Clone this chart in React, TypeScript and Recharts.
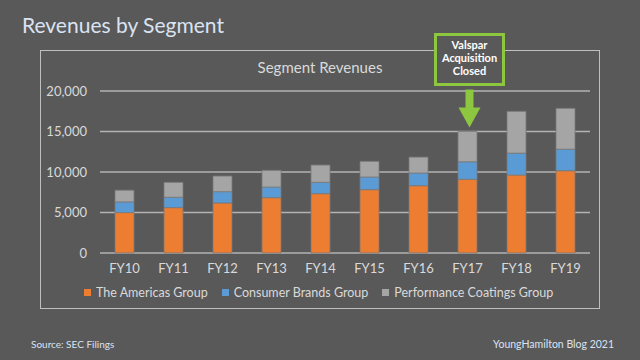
import { BarChart, Bar, XAxis, YAxis, CartesianGrid, ReferenceDot } from "recharts";

const YEARS = ["FY10", "FY11", "FY12", "FY13", "FY14", "FY15", "FY16", "FY17", "FY18", "FY19"];
const AMERICAS = [4990, 5600, 6180, 6830, 7330, 7820, 8310, 9100, 9630, 10160];
const CONSUMER = [1320, 1280, 1390, 1320, 1400, 1560, 1560, 2160, 2700, 2660];
const PERFORMANCE = [1440, 1840, 1930, 2050, 2130, 1930, 1970, 3740, 5160, 5040];
const Y_TICKS = [0, 5000, 10000, 15000, 20000];

const SERIES = [
  { key: "americas", name: "The Americas Group", color: "#ED7D31" },
  { key: "consumer", name: "Consumer Brands Group", color: "#5B9BD5" },
  { key: "performance", name: "Performance Coatings Group", color: "#A5A5A5" },
];

const FONT = "Lato, 'Open Sans', sans-serif";
const BG = "#595959";
const TEXT = "#d9d9d9";

const data = YEARS.map((year, i) => ({
  year,
  americas: AMERICAS[i],
  consumer: CONSUMER[i],
  performance: PERFORMANCE[i],
}));

const FY17 = YEARS.indexOf("FY17");
const fy17Total = AMERICAS[FY17] + CONSUMER[FY17] + PERFORMANCE[FY17];

// arrow + callout box anchored on top of the FY17 stack
function Callout(props: any) {
  const { cx, cy } = props;
  if (cx == null || cy == null) return null;
  const tip = cy - 4;
  const headBase = tip - 20;
  const shaftTop = tip - 38;
  const boxBottom = shaftTop - 5;
  const boxTop = boxBottom - 50;
  const bx = cx + 2;
  const green = "#8DC63F";
  return (
    <g>
      <rect x={cx - 2} y={shaftTop} width={8} height={headBase - shaftTop + 1} fill={green} />
      <polygon
        points={`${cx - 9},${headBase} ${cx + 13},${headBase} ${cx + 2},${tip}`}
        fill={green}
      />
      <rect
        x={bx - 34}
        y={boxTop}
        width={68}
        height={boxBottom - boxTop}
        fill={BG}
        stroke={green}
        strokeWidth={3}
      />
      {["Valspar", "Acquisition", "Closed"].map((line, i) => (
        <text
          key={line}
          x={bx}
          y={boxTop + 14 + i * 13}
          textAnchor="middle"
          fill="#ffffff"
          fontSize={11}
          fontWeight={700}
          fontFamily={FONT}
        >
          {line}
        </text>
      ))}
    </g>
  );
}

export default function App() {
  return (
    <div
      style={{
        position: "absolute",
        top: 0,
        left: 0,
        width: 640,
        height: 360,
        background: BG,
        fontFamily: FONT,
        overflow: "hidden",
      }}
    >
      <div style={{ position: "absolute", left: 22, top: 12, fontSize: 21, color: "#dae3f3" }}>
        Revenues by Segment
      </div>

      {/* chart frame */}
      <div
        style={{
          position: "absolute",
          left: 40,
          top: 50,
          width: 558,
          height: 257,
          border: "1px solid #bfbfbf",
        }}
      />
      <div
        style={{
          position: "absolute",
          left: 40,
          width: 560,
          top: 58,
          textAlign: "center",
          fontSize: 15,
          color: TEXT,
        }}
      >
        Segment Revenues
      </div>

      <div style={{ position: "absolute", top: 0, left: 0 }}>
        <BarChart
          width={640}
          height={360}
          data={data}
          margin={{ top: 91, right: 50, left: 40, bottom: 77 }}
        >
          <CartesianGrid vertical={false} stroke="#b3b3b3" strokeWidth={1.5} />
          <XAxis
            dataKey="year"
            height={30}
            axisLine={false}
            tickLine={false}
            tickSize={0}
            tickMargin={11}
            tick={{ fill: TEXT, fontSize: 13, fontFamily: FONT }}
          />
          <YAxis
            width={60}
            domain={[0, 20000]}
            ticks={Y_TICKS}
            axisLine={false}
            tickLine={false}
            tickSize={0}
            tickMargin={13}
            tickFormatter={(v: number) => v.toLocaleString("en-US")}
            tick={{ fill: TEXT, fontSize: 13, fontFamily: FONT }}
          />
          {SERIES.map((s) => (
            <Bar
              key={s.key}
              dataKey={s.key}
              name={s.name}
              stackId="rev"
              fill={s.color}
              stroke="#7a7a7a"
              strokeWidth={0.8}
              barSize={19}
              isAnimationActive={false}
            />
          ))}
          <ReferenceDot
            x="FY17"
            y={fy17Total}
            r={0}
            ifOverflow="visible"
            shape={(p: any) => <Callout {...p} />}
          />
        </BarChart>
      </div>

      {/* legend */}
      <div
        style={{
          position: "absolute",
          top: 285,
          left: 84,
          display: "flex",
          alignItems: "center",
          fontSize: 12.5,
          color: TEXT,
        }}
      >
        {SERIES.map((s) => (
          <div key={s.key} style={{ display: "flex", alignItems: "center", marginRight: 14 }}>
            <span
              style={{
                display: "inline-block",
                width: 7,
                height: 7,
                background: s.color,
                marginRight: 5,
              }}
            />
            <span>{s.name}</span>
          </div>
        ))}
      </div>

      <div style={{ position: "absolute", left: 31, top: 338, fontSize: 10, color: "#dae3f3" }}>
        Source: SEC Filings
      </div>
      <div style={{ position: "absolute", right: 26, top: 338, fontSize: 10.5, color: "#dae3f3" }}>
        YoungHamilton Blog 2021
      </div>
    </div>
  );
}
